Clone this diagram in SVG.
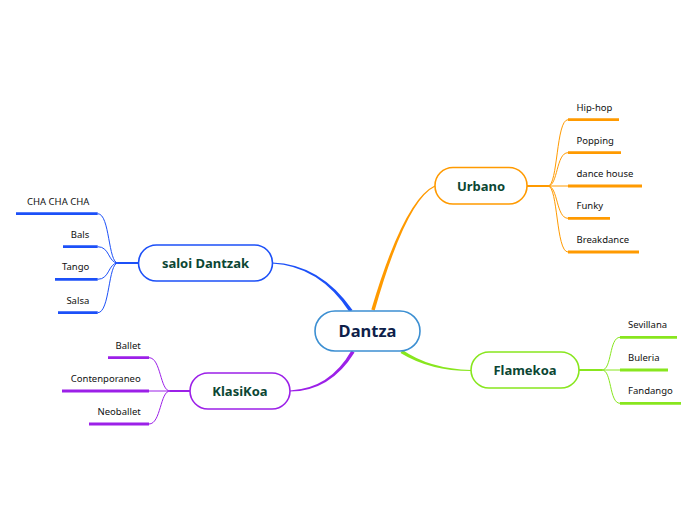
<svg xmlns="http://www.w3.org/2000/svg" width="696" height="520" viewBox="0 0 696 520">
<style>
.node{fill:#fff;stroke-width:1.6}
.lbl{font-family:"Noto Sans","Open Sans",sans-serif;font-weight:bold;font-size:13px;fill:#0b4633;text-anchor:middle}
.leaf{font-family:"Noto Sans","Open Sans",sans-serif;font-size:9.5px;fill:#111}
.r{text-anchor:end}
.br{fill:none;stroke-width:1}
.ul{fill:none;stroke-width:2.8}
.o{stroke:#ff9a00}.g{stroke:#88e61e}.b{stroke:#1c50f8}.p{stroke:#9c20e8}
</style>
<rect width="696" height="520" fill="#fff"/>
<g id="connectors">
  <path d="M371.3,309.5 Q404,199.7 434.75,185.5 L435.25,186.5 Q406,200.3 374.7,310.5 Z" fill="#ff9a00"/>
  <path d="M352.5,310 Q320.5,264 272,262.4 L272,263.6 Q319.5,266 349.5,312 Z" fill="#1c50f8"/>
  <path d="M354.5,352.4 Q330.5,391 290,391.6 L290,390.4 Q329.5,389 351.5,350.6 Z" fill="#9c20e8"/>
  <path d="M400.5,353 Q430,371 471,371.1 L471,369.9 Q430,369 402.5,350 Z" fill="#88e61e"/>
  <!-- Urbano -->
  <g class="o">
    <path class="ul" d="M527,186 H548" style="stroke-width:2"/>
    <path class="br" d="M548,186 C558,186 556,119.7 568,119.7"/>
    <path class="br" d="M548,186 C558,186 556,152.7 568,152.7"/>
    <path class="br" d="M548,186 H568"/>
    <path class="br" d="M548,186 C558,186 556,218.3 568,218.3"/>
    <path class="br" d="M548,186 C558,186 556,252 568,252"/>
    <path class="ul" d="M568,119.7 H619"/>
    <path class="ul" d="M568,152.7 H621"/>
    <path class="ul" d="M568,186 H642"/>
    <path class="ul" d="M568,218.3 H610"/>
    <path class="ul" d="M568,252 H639"/>
  </g>
  <!-- Flamekoa -->
  <g class="g">
    <path class="ul" d="M579,370 H602" style="stroke-width:2"/>
    <path class="br" d="M602,370 C612,370 609,337.3 620,337.3"/>
    <path class="br" d="M602,370 H620"/>
    <path class="br" d="M602,370 C612,370 609,403.3 620,403.3"/>
    <path class="ul" d="M620,337.3 H677"/>
    <path class="ul" d="M620,370 H668"/>
    <path class="ul" d="M620,403.3 H681"/>
  </g>
  <!-- saloi Dantzak -->
  <g class="b">
    <path class="ul" d="M138,263 H118" style="stroke-width:2"/>
    <path class="br" d="M118,263 C108,263 110,213.7 97.7,213.7"/>
    <path class="br" d="M118,263 C108,263 110,246.7 97.7,246.7"/>
    <path class="br" d="M118,263 C108,263 110,279.3 97.7,279.3"/>
    <path class="br" d="M118,263 C108,263 110,312.7 97.7,312.7"/>
    <path class="ul" d="M16,213.7 H97.7"/>
    <path class="ul" d="M63,246.7 H97.7"/>
    <path class="ul" d="M55,279.3 H97.7"/>
    <path class="ul" d="M58,312.7 H97.7"/>
  </g>
  <!-- KlasiKoa -->
  <g class="p">
    <path class="ul" d="M190,391 H170" style="stroke-width:2"/>
    <path class="br" d="M170,391 C160,391 161,357.7 149,357.7"/>
    <path class="br" d="M170,391 H149"/>
    <path class="br" d="M170,391 C160,391 161,424 149,424"/>
    <path class="ul" d="M108,357.7 H149"/>
    <path class="ul" d="M62,391 H149"/>
    <path class="ul" d="M89,424 H149"/>
  </g>
</g>
<g id="dantza">
  <rect class="node" x="315" y="311" width="105" height="40" rx="20" stroke="#3c8fd2"/>
  <text class="lbl" x="367.5" y="337" style="font-size:16.5px;fill:#0f1f4a">Dantza</text>
</g>
<g id="urbano">
  <rect class="node o" x="435" y="167.5" width="92" height="36.5" rx="18"/>
  <text class="lbl" x="481" y="191">Urbano</text>
</g>
<g id="urbano-leaves">
  <text class="leaf" x="576.5" y="110.7">Hip-hop</text>
  <text class="leaf" x="576.5" y="143.7">Popping</text>
  <text class="leaf" x="576.5" y="177">dance house</text>
  <text class="leaf" x="576.5" y="209.3">Funky</text>
  <text class="leaf" x="576.5" y="243">Breakdance</text>
</g>
<g id="flamekoa">
  <rect class="node g" x="471" y="352" width="108" height="36" rx="18"/>
  <text class="lbl" x="525" y="375">Flamekoa</text>
</g>
<g id="flamekoa-leaves">
  <text class="leaf" x="628" y="328.3">Sevillana</text>
  <text class="leaf" x="628" y="361">Buleria</text>
  <text class="leaf" x="628" y="394.3">Fandango</text>
</g>
<g id="saloi">
  <rect class="node b" x="138.5" y="245" width="134" height="36" rx="18"/>
  <text class="lbl" x="205.5" y="268">saloi Dantzak</text>
</g>
<g id="saloi-leaves">
  <text class="leaf r" x="89.3" y="204.7">CHA CHA CHA</text>
  <text class="leaf r" x="89.3" y="237.7">Bals</text>
  <text class="leaf r" x="89.3" y="270.3">Tango</text>
  <text class="leaf r" x="89.3" y="303.7">Salsa</text>
</g>
<g id="klasikoa">
  <rect class="node p" x="190" y="373" width="100" height="36" rx="18"/>
  <text class="lbl" x="240" y="396">KlasiKoa</text>
</g>
<g id="klasikoa-leaves">
  <text class="leaf r" x="140.7" y="348.7">Ballet</text>
  <text class="leaf r" x="140.7" y="382">Contenporaneo</text>
  <text class="leaf r" x="140.7" y="415">Neoballet</text>
</g>
</svg>
